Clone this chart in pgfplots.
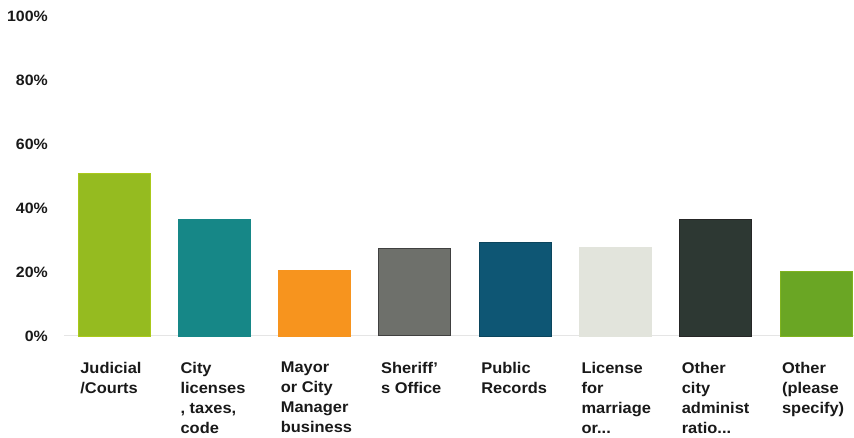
\documentclass[border=0pt]{standalone}
\usepackage{pgfplots}
\pgfplotsset{compat=1.18}
\usepackage{fontspec}
\setmainfont{Liberation Sans}[FakeStretch=1.06]
\definecolor{c1}{HTML}{95BB20}
\definecolor{c2}{HTML}{168787}
\definecolor{c3}{HTML}{F7941E}
\definecolor{c4}{HTML}{6E706B}
\definecolor{c5}{HTML}{0E5674}
\definecolor{c6}{HTML}{E2E4DC}
\definecolor{c7}{HTML}{2D3833}
\definecolor{c8}{HTML}{6AA624}
\begin{document}
\begin{tikzpicture}
\begin{axis}[
  at={(0,0)}, anchor=south west,
  scale only axis,
  width=790pt, height=320pt,
  xmin=-0.5, xmax=7.38,
  ymin=0, ymax=100,
  axis line style={draw=none},
  axis x line*=bottom,
  axis y line*=left,
  ytick={0,20,40,60,80,100},
  yticklabel={\pgfmathprintnumber{\tick}\%},
  yticklabel style={font=\bfseries\fontsize{15}{18}\selectfont, inner sep=0pt, xshift=-16pt, text=black!90},
  /pgf/number format/assume math mode=true,
  xtick={0,1,2,3,4,5,6,7},
  xticklabels={{Judicial\\/Courts},{City\\licenses\\, taxes,\\code},{Mayor\\or City\\Manager\\business},{Sheriff'\\s Office},{Public\\Records},{License\\for\\marriage\\or.{}.{}.},{Other\\city\\administ\\ratio.{}.{}.},{Other\\(please\\specify)}},
  xticklabel style={font=\bfseries\fontsize{15.5}{20}\selectfont, align=left, anchor=north west, inner sep=0pt, xshift=-34pt, yshift=-26pt, text=black!90},
  major tick length=0pt,
  ybar, bar width=72pt, bar shift=0pt,
  clip=false,
]
\draw[black!10, line width=1pt] (axis cs:-0.5,0) -- (axis cs:7.38,0);
\addplot[fill=c1, draw=c1!80!yellow] coordinates {(0,50.8)};
\addplot[fill=c2, draw=c2] coordinates {(1,36.5)};
\addplot[fill=c3, draw=c3] coordinates {(2,20.6)};
\addplot[fill=c4, draw=black!75, line width=1pt] coordinates {(3,27.4)};
\addplot[fill=c5, draw=c5!80!black] coordinates {(4,29.2)};
\addplot[fill=c6, draw=c6] coordinates {(5,27.7)};
\addplot[fill=c7, draw=black!85] coordinates {(6,36.5)};
\addplot[fill=c8, draw=c8!85!yellow] coordinates {(7,20.1)};
\end{axis}
\pgfresetboundingbox
\path[use as bounding box] (-64pt,-102pt) rectangle (790pt,336pt);
\end{tikzpicture}
\end{document}
